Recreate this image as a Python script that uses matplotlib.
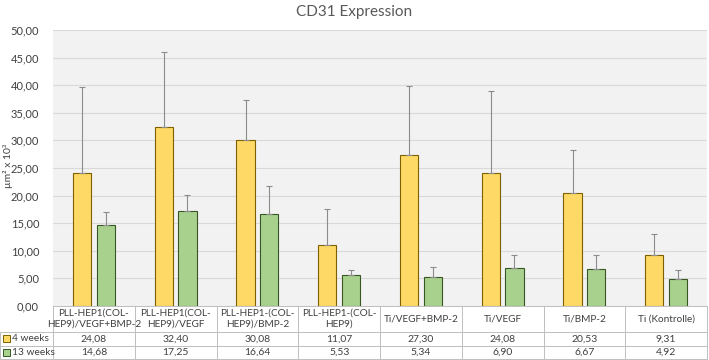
import matplotlib.pyplot as plt
from matplotlib.patches import Rectangle
from matplotlib.transforms import blended_transform_factory
import numpy as np

plt.rcParams['font.family'] = ['Lato', 'DejaVu Sans']

# Data
categories = ['PLL-HEP1(COL-\nHEP9)/VEGF+BMP-2', 'PLL-HEP1(COL-\nHEP9)/VEGF',
              'PLL-HEP1-(COL-\nHEP9)/BMP-2', 'PLL-HEP1-(COL-\nHEP9)',
              'Ti/VEGF+BMP-2', 'Ti/VEGF', 'Ti/BMP-2', 'Ti (Kontrolle)']
weeks4 = [24.08, 32.40, 30.08, 11.07, 27.30, 24.08, 20.53, 9.31]
weeks13 = [14.68, 17.25, 16.64, 5.53, 5.34, 6.90, 6.67, 4.92]
# upper end of the error bars
weeks4_top = [39.7, 46.0, 37.3, 17.5, 39.9, 38.9, 28.3, 13.1]
weeks13_top = [17.1, 20.1, 21.8, 6.5, 7.0, 9.3, 9.3, 6.5]
series_names = ['4 weeks', '13 weeks']

yellow, yellow_edge = '#FFD966', '#7F6000'
green, green_edge = '#A9D18E', '#385723'
text_col = '#404040'
grid_col = '#D9D9D9'

fig = plt.figure(figsize=(7.09, 3.60), dpi=100)
ax = fig.add_axes([53 / 709, 1 - 306 / 360, 654 / 709, 276 / 360])
ax.set_facecolor('#F2F2F2')

x = np.arange(len(categories))
w = 0.225
off = 0.145
err4 = [np.zeros(len(x)), np.array(weeks4_top) - np.array(weeks4)]
err13 = [np.zeros(len(x)), np.array(weeks13_top) - np.array(weeks13)]
ax.bar(x - off, weeks4, w, color=yellow, edgecolor=yellow_edge, linewidth=0.8, zorder=3,
       yerr=err4, error_kw=dict(ecolor='#8C8C8C', elinewidth=0.8, capsize=2, capthick=0.8))
ax.bar(x + off, weeks13, w, color=green, edgecolor=green_edge, linewidth=0.8, zorder=3,
       yerr=err13, error_kw=dict(ecolor='#8C8C8C', elinewidth=0.8, capsize=2, capthick=0.8))

ax.set_xlim(-0.5, len(categories) - 0.5)
ax.set_ylim(0, 50)
ax.set_yticks(np.arange(0, 51, 5))
ax.set_yticklabels([f'{v:.2f}'.replace('.', ',') for v in np.arange(0, 51, 5)],
                   fontsize=8, color=text_col)
ax.set_xticks([])
ax.tick_params(axis='y', length=0, pad=10)
ax.yaxis.grid(True, color=grid_col, linewidth=0.8, zorder=0)
for s in ax.spines.values():
    s.set_visible(False)

fig.text(0.5, 0.968, 'CD31 Expression', ha='center', va='center', fontsize=11, color='#595959')
fig.text(8 / 709, 0.54, 'µm² x 10³', rotation=90, ha='center', va='center', fontsize=7.5,
         color=text_col)

# data table under the axis
tr = blended_transform_factory(ax.transData, fig.transFigure)
lc = '#BFBFBF'
y_top = 1 - 306 / 360
y_h = 1 - 332 / 360
y_r1 = 1 - 345.5 / 360
y_r2 = 1 - 359 / 360
for yy in [y_top, y_h, y_r1, y_r2]:
    x0 = -0.5 if yy == y_top else -0.5 - 53 / (654 / 8)
    ax.plot([x0, len(categories) - 0.5], [yy, yy], color=lc, lw=0.7, transform=tr, clip_on=False)
for i in range(len(categories) + 1):
    ax.plot([i - 0.5, i - 0.5], [y_r2, y_top], color=lc, lw=0.7, transform=tr, clip_on=False)
left_edge = -0.5 - 52.5 / (654 / 8)
ax.plot([left_edge, left_edge], [y_r2, y_h], color=lc, lw=0.7, transform=tr, clip_on=False)

for i, cat in enumerate(categories):
    ax.text(i, (y_top + y_h) / 2, cat, ha='center', va='center', fontsize=7.2, color=text_col,
            transform=tr, linespacing=1.3)
    ax.text(i, (y_h + y_r1) / 2, f'{weeks4[i]:.2f}'.replace('.', ','), ha='center', va='center',
            fontsize=7.5, color=text_col, transform=tr)
    ax.text(i, (y_r1 + y_r2) / 2, f'{weeks13[i]:.2f}'.replace('.', ','), ha='center', va='center',
            fontsize=7.5, color=text_col, transform=tr)

for name, yy, fc, ec in [(series_names[0], (y_h + y_r1) / 2, yellow, yellow_edge),
                         (series_names[1], (y_r1 + y_r2) / 2, green, green_edge)]:
    fig.patches.append(Rectangle((3 / 709, yy - 3.5 / 360), 7 / 709, 7 / 360, facecolor=fc,
                                 edgecolor=ec, linewidth=0.7, transform=fig.transFigure))
    fig.text(12 / 709, yy, name, ha='left', va='center', fontsize=7.3, color=text_col)

fig.savefig('out.png', dpi=100, facecolor='white')
